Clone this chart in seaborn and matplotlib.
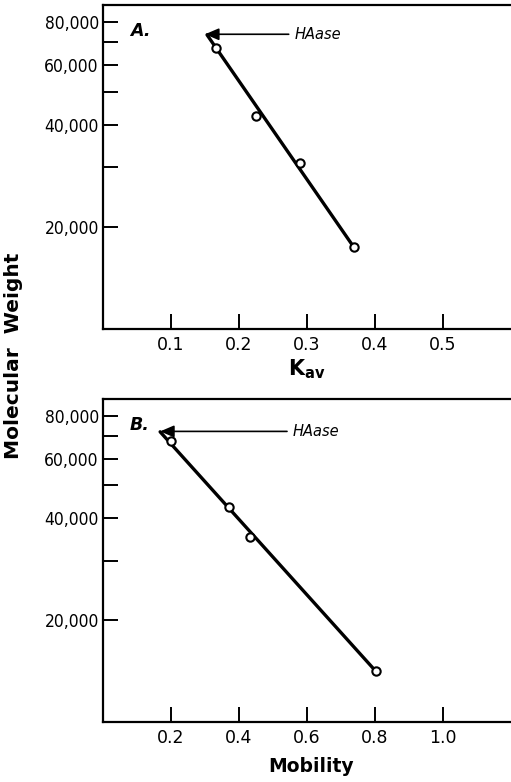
import numpy as np
import pandas as pd
import seaborn as sns
import matplotlib
matplotlib.use("Agg")
import matplotlib.pyplot as plt
from matplotlib import font_manager
from matplotlib.ticker import FixedLocator, FixedFormatter, NullFormatter

# ---------------- data ----------------
kav_values = [0.166, 0.225, 0.290, 0.369]
kav_mw = [67200, 42500, 30800, 17400]
kav_fit_x = [0.153, 0.369]
kav_fit_mw = [73500, 17400]
kav_haase = (0.150, 73800)

mob_values = [0.200, 0.371, 0.432, 0.803]
mob_mw = [67600, 43100, 35100, 14100]
mob_fit_x = [0.168, 0.803]
mob_fit_mw = [72000, 14100]
mob_haase = (0.168, 72200)

y_major = [20000, 40000, 60000, 80000]
y_major_labels = ["20,000", "40,000", "60,000", "80,000"]
y_minor = [30000, 50000, 70000]
kav_ticks = [0.1, 0.2, 0.3, 0.4, 0.5]
kav_tick_labels = ["0.1", "0.2", "0.3", "0.4", "0.5"]
mob_ticks = [0.2, 0.4, 0.6, 0.8, 1.0]
mob_tick_labels = ["0.2", "0.4", "0.6", "0.8", "1.0"]

# ---------------- style ----------------
sns.set_style("ticks")
plt.rcParams['font.family'] = ['DejaVu Sans']
for k in ['text.color', 'axes.labelcolor', 'xtick.color', 'ytick.color', 'axes.edgecolor']:
    plt.rcParams[k] = 'black'

# choose a narrow face for the y tick labels if one is installed
entries = font_manager.fontManager.ttflist
names = {f.name for f in entries}
ytick_font = dict(family='Liberation Sans', size=11.5, stretch='normal')
if 'Liberation Sans Narrow' in names:
    ytick_font = dict(family='Liberation Sans Narrow', size=13, stretch='normal')
elif any(f.name == 'DejaVu Sans' and str(f.stretch) in ('condensed', 'semi-condensed')
         and f.style == 'normal' and f.weight in (400, 'normal') for f in entries):
    ytick_font = dict(family='DejaVu Sans', size=12.5, stretch='condensed')

W, H = 511, 782
fig = plt.figure(figsize=(W / 100, H / 100), dpi=100)

def px_axes(left, top, right, bottom):
    return fig.add_axes([left / W, 1 - bottom / H, (right - left) / W, (bottom - top) / H])

ax1 = px_axes(103, 5, 511, 329)
ax2 = px_axes(103, 399, 511, 722)

def style_axis(ax, xlim, xticks, xlabels):
    ax.set_yscale('log')
    ax.set_ylim(10000, 90000)
    ax.set_xlim(*xlim)
    ax.yaxis.set_major_locator(FixedLocator(y_major))
    ax.yaxis.set_major_formatter(FixedFormatter(y_major_labels))
    ax.yaxis.set_minor_locator(FixedLocator(y_minor))
    ax.yaxis.set_minor_formatter(NullFormatter())
    ax.set_xticks(xticks)
    ax.set_xticklabels(xlabels)
    ax.tick_params(axis='both', which='both', direction='in', length=11,
                   width=1.4, color='black')
    ax.tick_params(axis='y', which='major', pad=3)
    ax.tick_params(axis='x', which='major', pad=5, labelsize=12.5)
    for lab in ax.get_yticklabels():
        lab.set_fontfamily(ytick_font['family'])
        lab.set_fontstretch(ytick_font['stretch'])
        lab.set_fontsize(ytick_font['size'])
    for s in ['top', 'left', 'bottom']:
        ax.spines[s].set_linewidth(1.6)
        ax.spines[s].set_color('black')
    ax.spines['right'].set_visible(False)
    ax.set_ylabel('')
    ax.grid(False)

def draw_panel(ax, xs, ys, fx, fy, hase, text_x):
    sns.lineplot(x=fx, y=fy, ax=ax, color='black', linewidth=2.4, zorder=2)
    sns.scatterplot(x=xs, y=ys, ax=ax, marker='o', s=36, facecolor='white',
                    edgecolor='black', linewidth=1.5, zorder=3)
    ax.annotate('HAase', xy=hase, xytext=(text_x, hase[1]),
                fontsize=10.5, fontstyle='italic', ha='left', va='center',
                arrowprops=dict(arrowstyle='-|>,head_length=0.7,head_width=0.3',
                                mutation_scale=12, lw=1.2, color='black',
                                shrinkA=2, shrinkB=0, relpos=(0, 0.5)))

draw_panel(ax1, kav_values, kav_mw, kav_fit_x, kav_fit_mw, kav_haase, 0.282)
draw_panel(ax2, mob_values, mob_mw, mob_fit_x, mob_fit_mw, mob_haase, 0.559)

style_axis(ax1, (0, 0.6), kav_ticks, kav_tick_labels)
style_axis(ax2, (0, 1.2), mob_ticks, mob_tick_labels)

# panel letters
fig.text(130 / W, 1 - 31 / H, 'A.', fontsize=12.5, fontweight='bold',
         fontstyle='italic', ha='left', va='center')
fig.text(130 / W, 1 - 425 / H, 'B.', fontsize=12.5, fontweight='bold',
         fontstyle='italic', ha='left', va='center')

# axis labels
ax1.set_xlabel(r'$\mathbf{K}_{\mathbf{av}}$', fontsize=15)
ax1.xaxis.set_label_coords(0.5, -0.088)
ax2.set_xlabel('Mobility', fontsize=13.5, fontweight='bold')
ax2.xaxis.set_label_coords(0.51, -0.108)

fig.text(14 / W, 1 - 356 / H, 'Molecular  Weight', rotation=90, fontsize=14.5,
         fontweight='bold', ha='center', va='center')

fig.savefig('out.png', dpi=100)
